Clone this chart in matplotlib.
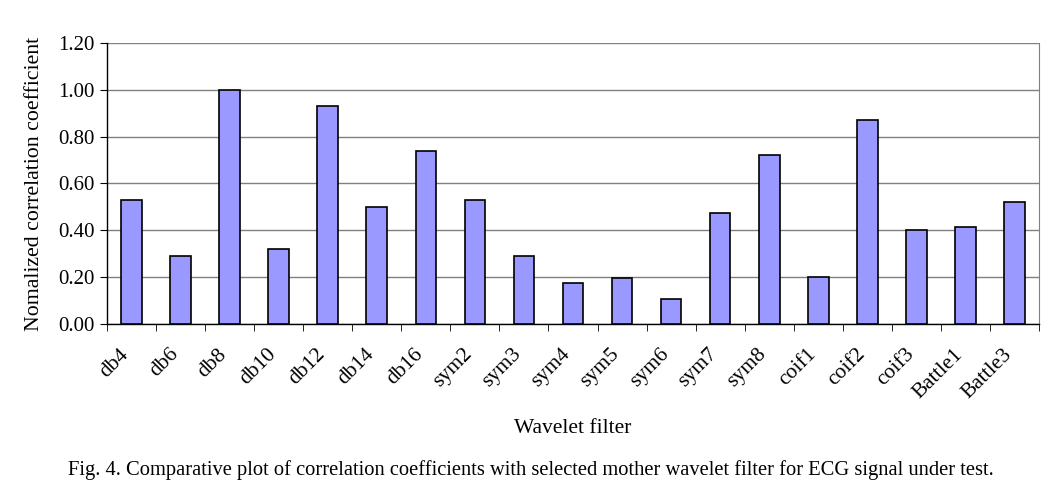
import matplotlib
matplotlib.use("Agg")
import matplotlib.pyplot as plt
import matplotlib.transforms as mtransforms
import numpy as np

# Wavelet filters and their normalized correlation coefficients
filters = ['db4', 'db6', 'db8', 'db10', 'db12', 'db14', 'db16',
           'sym2', 'sym3', 'sym4', 'sym5', 'sym6', 'sym7', 'sym8',
           'coif1', 'coif2', 'coif3', 'Battle1', 'Battle3']
coeffs = [0.53, 0.29, 1.00, 0.32, 0.93, 0.50, 0.74,
          0.53, 0.29, 0.175, 0.197, 0.108, 0.475, 0.722,
          0.201, 0.871, 0.401, 0.413, 0.523]
y_ticks = [0.0, 0.2, 0.4, 0.6, 0.8, 1.0, 1.2]

plt.rcParams['font.family'] = ['Liberation Serif', 'DejaVu Serif']

fig = plt.figure(figsize=(10.52, 5.01), dpi=100)
ax = fig.add_axes([107 / 1052, 1 - 324 / 501, 932 / 1052, 281 / 501])

x = np.arange(len(filters))
ax.bar(x, coeffs, width=0.42, color='#9999ff', edgecolor='black',
       linewidth=1.2, zorder=3)

ax.set_xlim(-0.5, len(filters) - 0.5)
ax.set_ylim(0, 1.2)
ax.set_yticks(y_ticks)
ax.set_yticklabels([f'{v:.2f}' for v in y_ticks], fontsize=15)
ax.grid(axis='y', color='#808080', linewidth=1.0, zorder=0)

ax.set_xticks(x)
ax.set_xticklabels(filters, rotation=45, ha='right', rotation_mode='anchor',
                   fontsize=15.5)
ax.tick_params(axis='x', which='major', length=0, pad=15)
ax.set_xticks(np.arange(len(filters) + 1) - 0.5, minor=True)
ax.tick_params(axis='x', which='minor', length=5, color='black')
ax.tick_params(axis='y', length=5, color='black', pad=4)

# nudge rotated labels left so they sit under their bars like the original
shift = mtransforms.ScaledTranslation(-0.12, 0, fig.dpi_scale_trans)
for lbl in ax.get_xticklabels():
    lbl.set_transform(lbl.get_transform() + shift)

for side in ['left', 'bottom']:
    ax.spines[side].set_color('black')
    ax.spines[side].set_linewidth(1.0)
ax.spines['top'].set_visible(False)
ax.spines['right'].set_color('#808080')

ax.set_ylabel('Nomalized correlation coefficient', fontsize=15.7, labelpad=10)
ax.set_xlabel('Wavelet filter', fontsize=15.5, labelpad=12)

fig.text(0.505, 1 - 470 / 501,
         'Fig. 4. Comparative plot of correlation coefficients with selected '
         'mother wavelet filter for ECG signal under test.',
         ha='center', va='center', fontsize=14.75)

fig.savefig('out.png', dpi=100)
